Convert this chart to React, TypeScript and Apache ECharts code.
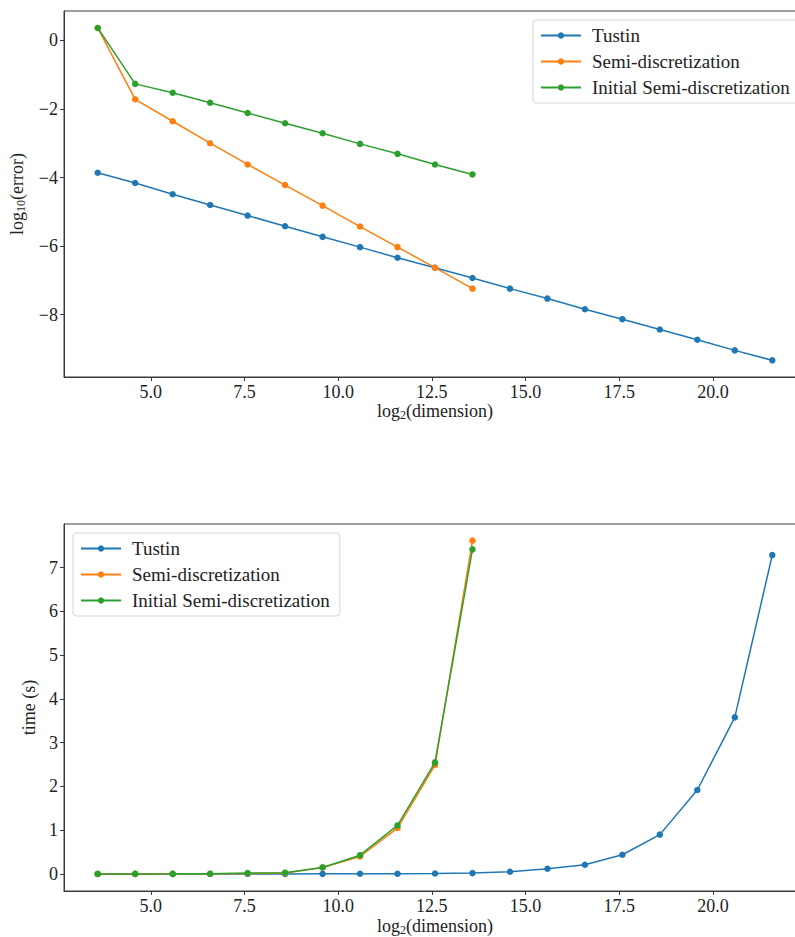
import React, { useEffect, useRef } from "react";
import * as echarts from "echarts";

// log2(dimension) values: log2(12 * 2^k)
const dimLog2 = [
  3.585, 4.585, 5.585, 6.585, 7.585, 8.585, 9.585, 10.585, 11.585, 12.585,
  13.585, 14.585, 15.585, 16.585, 17.585, 18.585, 19.585, 20.585, 21.585,
];

const seriesNames = ["Tustin", "Semi-discretization", "Initial Semi-discretization"];
const colors = ["#1f77b4", "#ff7f0e", "#2ca02c"];

// top: log10(error)
const errTustin = [
  -3.86, -4.16, -4.49, -4.8, -5.11, -5.42, -5.73, -6.03, -6.34, -6.63,
  -6.93, -7.24, -7.53, -7.84, -8.13, -8.43, -8.73, -9.04, -9.33,
];
const errSemi = [0.36, -1.72, -2.36, -3.0, -3.62, -4.22, -4.82, -5.43, -6.03, -6.63, -7.24];
const errInitial = [0.36, -1.27, -1.53, -1.82, -2.12, -2.42, -2.71, -3.02, -3.31, -3.62, -3.91];

// bottom: time (s)
const timeTustin = [
  0.001, 0.001, 0.001, 0.001, 0.002, 0.002, 0.003, 0.004, 0.006, 0.01,
  0.02, 0.05, 0.12, 0.21, 0.44, 0.9, 1.92, 3.58, 7.29,
];
const timeSemi = [0.001, 0.002, 0.003, 0.005, 0.01, 0.02, 0.15, 0.4, 1.05, 2.49, 7.62];
const timeInitial = [0.001, 0.002, 0.003, 0.006, 0.02, 0.03, 0.15, 0.43, 1.11, 2.55, 7.42];

const xTicks = [5, 7.5, 10, 12.5, 15, 17.5, 20];
const errTicks = [0, -2, -4, -6, -8];
const timeTicks = [0, 1, 2, 3, 4, 5, 6, 7];

const FONT = "Liberation Serif";

const pair = (ys: number[]) => ys.map((y, i) => [dimLog2[i], y]);

export default function App() {
  const ref = useRef<HTMLDivElement>(null);
  useEffect(() => {
    if (!ref.current) return;
    const chart = echarts.init(ref.current, null, { renderer: "svg" });
    const axisLineStyle = { color: "#3a3a3a", width: 1 };
    const tickLabel = { fontFamily: FONT, fontSize: 18, color: "#222" };
    const minus = (v: number) => String(v).replace("-", "\u2212");
    const subRich = {
      sub: { fontFamily: FONT, fontSize: 12, color: "#222", verticalAlign: "bottom", padding: [8, 0, 0, 0] },
    };
    const makeX = (gridIndex: number, gap: number) => ({
      type: "value",
      gridIndex,
      min: 2.685,
      max: 22.485,
      name: "log{sub|2}(dimension)",
      nameLocation: "middle",
      nameGap: gap,
      nameTextStyle: { fontFamily: FONT, fontSize: 18, color: "#222", rich: subRich },
      axisLine: { show: true, onZero: false, lineStyle: axisLineStyle },
      axisTick: { show: true, inside: false, length: 4, lineStyle: axisLineStyle, customValues: xTicks },
      axisLabel: { ...tickLabel, margin: 6, customValues: xTicks, formatter: (v: number) => v.toFixed(1) },
      splitLine: { show: false },
    });
    const lineSeries = (name: string, data: number[], idx: number, axisIdx: number) => ({
      type: "line",
      name,
      xAxisIndex: axisIdx,
      yAxisIndex: axisIdx,
      data: pair(data),
      symbol: "circle",
      symbolSize: 6.5,
      showSymbol: true,
      lineStyle: { width: 1.5, color: colors[idx] },
      itemStyle: { color: colors[idx] },
      z: 2 + idx,
    });
    const legendCommon = {
      orient: "vertical",
      itemWidth: 40,
      itemHeight: 8,
      itemGap: 7,
      padding: [6, 10, 6, 7],
      borderColor: "#d6d6d6",
      borderWidth: 1,
      borderRadius: 3,
      backgroundColor: "rgba(255,255,255,0.8)",
      textStyle: { fontFamily: FONT, fontSize: 19, color: "#222", padding: [0, 0, 0, 6] },
      data: seriesNames,
    };
    chart.setOption({
      animation: false,
      color: colors,
      textStyle: { fontFamily: FONT },
      grid: [
        {
          left: 64, top: 11, width: 742, height: 366, show: true,
          borderColor: "#3a3a3a", borderWidth: 1, outerBoundsMode: "none", containLabel: false,
        },
        {
          left: 64, top: 524, width: 742, height: 367, show: true,
          borderColor: "#3a3a3a", borderWidth: 1, outerBoundsMode: "none", containLabel: false,
        },
      ],
      legend: [
        { ...legendCommon, left: 533, top: 20 },
        { ...legendCommon, left: 73, top: 533 },
      ],
      xAxis: [makeX(0, 24), makeX(1, 25)],
      yAxis: [
        {
          type: "value",
          gridIndex: 0,
          min: -9.816,
          max: 0.854,
          name: "log{sub|10}(error)",
          nameLocation: "middle",
          nameGap: 37,
          nameTextStyle: { fontFamily: FONT, fontSize: 18, color: "#222", rich: subRich },
          axisLine: { show: true, onZero: false, lineStyle: axisLineStyle },
          axisTick: { show: true, length: 4, lineStyle: axisLineStyle, customValues: errTicks },
          axisLabel: { ...tickLabel, margin: 6, customValues: errTicks, formatter: minus },
          splitLine: { show: false },
        },
        {
          type: "value",
          gridIndex: 1,
          min: -0.389,
          max: 8.0,
          name: "time (s)",
          nameLocation: "middle",
          nameGap: 22,
          nameTextStyle: { fontFamily: FONT, fontSize: 18, color: "#222" },
          axisLine: { show: true, onZero: false, lineStyle: axisLineStyle },
          axisTick: { show: true, length: 4, lineStyle: axisLineStyle, customValues: timeTicks },
          axisLabel: { ...tickLabel, margin: 6, customValues: timeTicks, formatter: minus },
          splitLine: { show: false },
        },
      ],
      series: [
        lineSeries(seriesNames[0], errTustin, 0, 0),
        lineSeries(seriesNames[1], errSemi, 1, 0),
        lineSeries(seriesNames[2], errInitial, 2, 0),
        lineSeries(seriesNames[0], timeTustin, 0, 1),
        lineSeries(seriesNames[1], timeSemi, 1, 1),
        lineSeries(seriesNames[2], timeInitial, 2, 1),
      ],
    });
    return () => chart.dispose();
  }, []);
  return (
    <div
      ref={ref}
      style={{ position: "fixed", left: 0, top: 0, width: 795, height: 937, background: "#fff" }}
    />
  );
}
